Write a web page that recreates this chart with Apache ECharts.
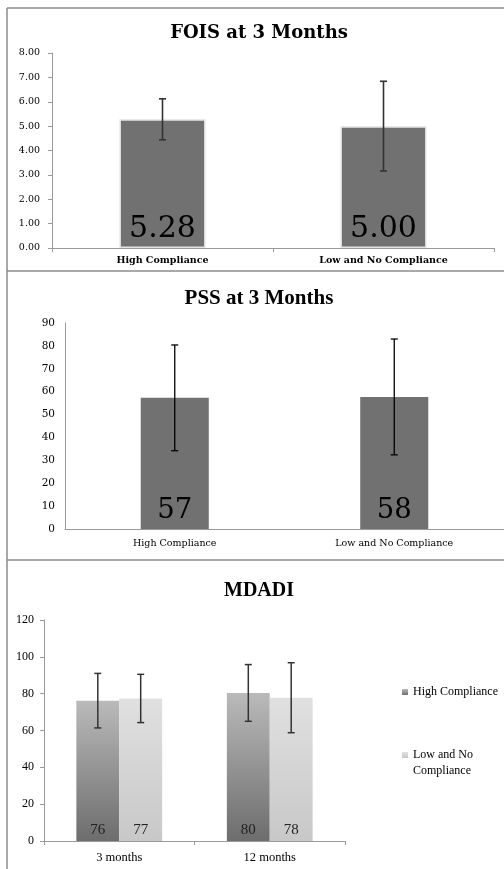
<!DOCTYPE html>
<html>
<head>
<meta charset="utf-8">
<script src="https://cdn.jsdelivr.net/npm/echarts@6/dist/echarts.min.js"></script>
<style>
html,body{margin:0;padding:0;background:#fff;}
#chart{width:504px;height:869px;}
</style>
</head>
<body>
<div id="chart"></div>
<script>
// ---- data ----
const foisCategories = ['High Compliance', 'Low and No Compliance'];
const foisMean = [5.28, 5.00];
const foisSD = [0.84, 1.84];

const pssCategories = ['High Compliance', 'Low and No Compliance'];
const pssMean = [57.3, 57.7];
const pssSD = [23.1, 25.3];

const mdadiCategories = ['3 months', '12 months'];
const mdadiHigh = [76.2, 80.4];
const mdadiLow = [77.4, 77.8];
const mdadiHighSD = [14.8, 15.4];
const mdadiLowSD = [13.1, 19.0];

const foisTicks = {min: 0, max: 8, interval: 1};
const pssTicks = {min: 0, max: 90, interval: 10};
const mdadiTicks = {min: 0, max: 120, interval: 20};

// ---- helpers ----
function errData(mean, sd) {
  return mean.map((m, i) => [i, m - sd[i], m + sd[i]]);
}
function errRender(offsetFrac, color, lw, cap) {
  return function (params, api) {
    const x = api.value(0);
    const lo = api.coord([x, api.value(1)]);
    const hi = api.coord([x, api.value(2)]);
    const band = api.size([1, 0])[0];
    const cx = lo[0] + offsetFrac * band;
    const st = {stroke: color, lineWidth: lw};
    return {
      type: 'group',
      children: [
        {type: 'line', shape: {x1: cx, y1: lo[1], x2: cx, y2: hi[1]}, style: st},
        {type: 'line', shape: {x1: cx - cap, y1: lo[1], x2: cx + cap, y2: lo[1]}, style: st},
        {type: 'line', shape: {x1: cx - cap, y1: hi[1], x2: cx + cap, y2: hi[1]}, style: st}
      ]
    };
  };
}

const serifW = 'DejaVu Serif';
const serif = 'Liberation Serif';
const axisGray = '#9a9a9a';
const borderGray = '#8c8c8c';

const chart = echarts.init(document.getElementById('chart'), null, {renderer: 'canvas'});

const grad = (top, bottom) => new echarts.graphic.LinearGradient(0, 0, 0, 1, [
  {offset: 0, color: top}, {offset: 1, color: bottom}
]);

const option = {
  animation: false,
  backgroundColor: '#ffffff',
  title: [
    {text: 'FOIS at 3 Months', left: 254, textAlign: 'center', top: 19,
      textStyle: {fontFamily: serifW, fontWeight: 'bold', fontSize: 18, color: '#000'}},
    {text: 'PSS at 3 Months', left: 254, textAlign: 'center', top: 283,
      textStyle: {fontFamily: serif, fontWeight: 'bold', fontSize: 21, color: '#000'}},
    {text: 'MDADI', left: 254, textAlign: 'center', top: 576,
      textStyle: {fontFamily: serif, fontWeight: 'bold', fontSize: 20, color: '#000'}}
  ],
  legend: {
    data: ['High Compliance', 'Low and No Compliance'],
    orient: 'vertical',
    left: 397,
    top: 679,
    itemWidth: 6,
    itemHeight: 6,
    itemGap: 31,
    icon: 'rect',
    formatter: function (n) { return n === 'Low and No Compliance' ? '\u00a0\nLow and No\nCompliance' : n; },
    textStyle: {fontFamily: serif, fontSize: 12, color: '#000', lineHeight: 16}
  },
  grid: [
    {left: 52, right: 10, top: 53, bottom: 621, outerBoundsMode: 'none'},
    {left: 65, right: 0, top: 323, bottom: 340, outerBoundsMode: 'none'},
    {left: 44, right: 159, top: 620, bottom: 28, outerBoundsMode: 'none'}
  ],
  xAxis: [
    {type: 'category', gridIndex: 0, data: foisCategories,
      axisLine: {lineStyle: {color: axisGray}},
      axisTick: {show: true, length: 4, lineStyle: {color: axisGray}},
      axisLabel: {margin: 8, fontFamily: serifW, fontWeight: 'bold', fontSize: 9.5, color: '#000'}},
    {type: 'category', gridIndex: 1, data: pssCategories,
      axisLine: {lineStyle: {color: axisGray}},
      axisTick: {show: false},
      axisLabel: {margin: 10, fontFamily: serifW, fontSize: 9.5, color: '#000'}},
    {type: 'category', gridIndex: 2, data: mdadiCategories,
      axisLine: {lineStyle: {color: axisGray}},
      axisTick: {show: true, length: 4, lineStyle: {color: axisGray}},
      axisLabel: {margin: 10, fontFamily: serif, fontSize: 12.5, color: '#000'}}
  ],
  yAxis: [
    {type: 'value', gridIndex: 0, min: foisTicks.min, max: foisTicks.max, interval: foisTicks.interval,
      axisLine: {show: true, lineStyle: {color: axisGray}},
      axisTick: {show: true, length: 4, lineStyle: {color: axisGray}},
      splitLine: {show: false},
      axisLabel: {margin: 12, fontFamily: serifW, fontSize: 9.5, color: '#000',
        formatter: v => v.toFixed(2)}},
    {type: 'value', gridIndex: 1, min: pssTicks.min, max: pssTicks.max, interval: pssTicks.interval,
      axisLine: {show: true, lineStyle: {color: axisGray}},
      axisTick: {show: false},
      splitLine: {show: false},
      axisLabel: {margin: 10, fontFamily: serifW, fontSize: 10.5, color: '#000'}},
    {type: 'value', gridIndex: 2, min: mdadiTicks.min, max: mdadiTicks.max, interval: mdadiTicks.interval,
      axisLine: {show: true, lineStyle: {color: axisGray}},
      axisTick: {show: true, length: 4, lineStyle: {color: axisGray}},
      splitLine: {show: false},
      axisLabel: {margin: 10, fontFamily: serif, fontSize: 12, color: '#000'}}
  ],
  series: [
    {type: 'bar', name: 'FOIS', xAxisIndex: 0, yAxisIndex: 0, data: foisMean, barWidth: '39%',
      itemStyle: {color: '#717171', borderColor: '#e4e4e4', borderWidth: 1.5},
      label: {show: true, position: 'insideBottom', distance: 4, fontFamily: serifW, fontSize: 30, color: '#000',
        formatter: p => p.value.toFixed(2)}},
    {type: 'custom', name: 'FOIS err', xAxisIndex: 0, yAxisIndex: 0, z: 10,
      renderItem: errRender(0, '#333', 1.6, 3.5), data: errData(foisMean, foisSD)},

    {type: 'bar', name: 'PSS', xAxisIndex: 1, yAxisIndex: 1, data: pssMean, barWidth: '31%',
      itemStyle: {color: '#717171'},
      label: {show: true, position: 'insideBottom', distance: 4, fontFamily: serifW, fontSize: 27.5, color: '#000',
        formatter: p => Math.round(p.value)}},
    {type: 'custom', name: 'PSS err', xAxisIndex: 1, yAxisIndex: 1, z: 10,
      renderItem: errRender(0, '#000', 1.3, 3.5), data: errData(pssMean, pssSD)},

    {type: 'bar', name: 'High Compliance', xAxisIndex: 2, yAxisIndex: 2, data: mdadiHigh,
      barGap: '0%', barCategoryGap: '43%',
      itemStyle: {color: grad('#bababa', '#6d6d6d')},
      label: {show: true, position: 'insideBottom', distance: 3, fontFamily: serif, fontSize: 15, color: '#222',
        formatter: p => Math.round(p.value)}},
    {type: 'bar', name: 'Low and No Compliance', xAxisIndex: 2, yAxisIndex: 2, data: mdadiLow,
      barGap: '0%', barCategoryGap: '43%',
      itemStyle: {color: grad('#e0e0e0', '#c8c8c8')},
      label: {show: true, position: 'insideBottom', distance: 3, fontFamily: serif, fontSize: 15, color: '#222',
        formatter: p => Math.round(p.value)}},
    {type: 'custom', name: 'MDADI high err', xAxisIndex: 2, yAxisIndex: 2, z: 10,
      renderItem: errRender(-0.1425, '#333', 1.5, 3.5), data: errData(mdadiHigh, mdadiHighSD)},
    {type: 'custom', name: 'MDADI low err', xAxisIndex: 2, yAxisIndex: 2, z: 10,
      renderItem: errRender(0.1425, '#333', 1.5, 3.5), data: errData(mdadiLow, mdadiLowSD)}
  ],
  graphic: [
    {type: 'line', shape: {x1: 7, y1: 8, x2: 504, y2: 8}, style: {stroke: borderGray, lineWidth: 1.5}},
    {type: 'line', shape: {x1: 7, y1: 8, x2: 7, y2: 869}, style: {stroke: borderGray, lineWidth: 1.5}},
    {type: 'line', shape: {x1: 7, y1: 271, x2: 504, y2: 271}, style: {stroke: borderGray, lineWidth: 1.5}},
    {type: 'line', shape: {x1: 7, y1: 560, x2: 504, y2: 560}, style: {stroke: borderGray, lineWidth: 1.5}}
  ]
};
chart.setOption(option);
</script>
</body>
</html>
